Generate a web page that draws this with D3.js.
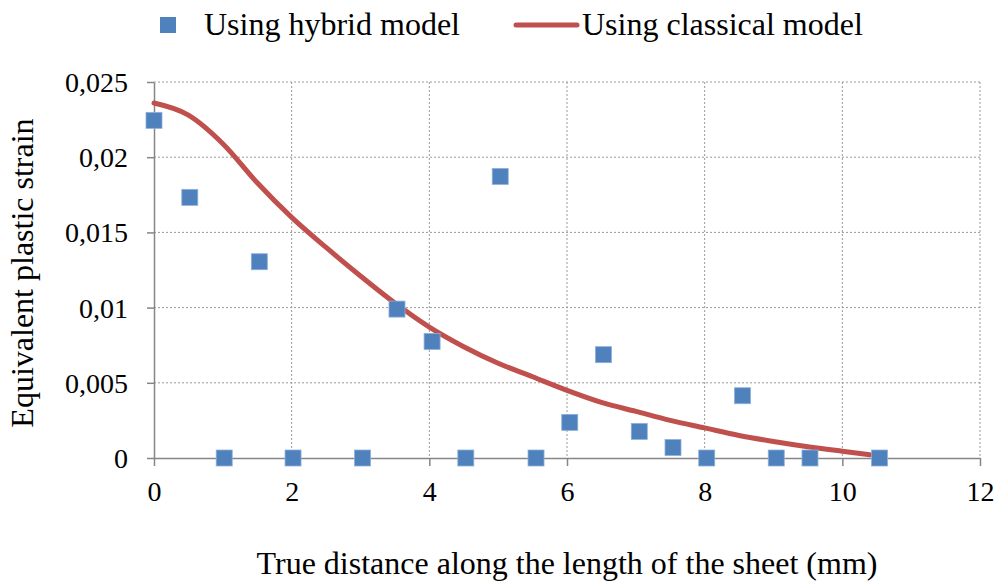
<!DOCTYPE html>
<html>
<head>
<meta charset="utf-8">
<script src="https://cdn.jsdelivr.net/npm/d3@7"></script>
<style>
  body { margin: 0; background: #fff; }
  svg text { font-family: "Liberation Serif", "Times New Roman", serif !important; fill: #000; }
</style>
</head>
<body>
<div id="chart"></div>
<script>
// hybrid model points
let hybridX = [0, 0.52, 1.02, 1.53, 2.02, 3.03, 3.53, 4.04, 4.53, 5.03, 5.55, 6.04, 6.53, 7.05, 7.54, 8.03, 8.55, 9.04, 9.53, 10.54];
let hybridY = [0.02245, 0.01733, 0, 0.01305, 0, 0, 0.0099, 0.00775, 0, 0.01872, 0, 0.00237, 0.00687, 0.00177, 0.0007, 0, 0.00414, 0, 0, 0];

// classical model curve
let classicalX = [0, 0.5, 1, 1.5, 2, 2.5, 3, 3.5, 4, 4.5, 5, 5.5, 6, 6.5, 7, 7.5, 8, 8.5, 9, 9.5, 10, 10.4];
let classicalY = [0.0236, 0.0228, 0.0209, 0.0183, 0.0160, 0.0140, 0.0121, 0.0103, 0.0087, 0.0074, 0.0063, 0.0054, 0.0045, 0.0037, 0.0031, 0.0025, 0.0020, 0.0015, 0.0011, 0.00075, 0.00045, 0.00022];

let xTicks = [0, 2, 4, 6, 8, 10, 12];
let yTicks = [0, 0.005, 0.01, 0.015, 0.02, 0.025];
let yTickLabels = ["0", "0,005", "0,01", "0,015", "0,02", "0,025"];

let svgWidth = 1000;
let svgHeight = 584;

let margin = { top: 82, right: 20, bottom: 126, left: 154 };
let chartWidth = 980 - margin.left;
let chartHeight = 458 - margin.top;

let svg = d3.select("#chart")
    .append("svg")
    .attr("width", svgWidth)
    .attr("height", svgHeight)
    .attr("font-family", "Liberation Serif, serif");

let chartGroup = svg.append("g")
    .attr("transform", `translate(${margin.left}, ${margin.top})`);

let xScale = d3.scaleLinear().domain([0, 12]).range([0, chartWidth]);
let yScale = d3.scaleLinear().domain([0, 0.025]).range([chartHeight, 0]);

// dotted gridlines
chartGroup.append("g")
    .selectAll("line")
    .data(yTicks.filter(d => d > 0))
    .enter()
    .append("line")
    .attr("x1", 0)
    .attr("x2", chartWidth)
    .attr("y1", d => yScale(d))
    .attr("y2", d => yScale(d))
    .attr("stroke", "#9a9a9a")
    .attr("stroke-width", 1)
    .attr("stroke-dasharray", "2,2");

chartGroup.append("g")
    .selectAll("line")
    .data(xTicks.filter(d => d > 0))
    .enter()
    .append("line")
    .attr("x1", d => xScale(d))
    .attr("x2", d => xScale(d))
    .attr("y1", 0)
    .attr("y2", chartHeight)
    .attr("stroke", "#9a9a9a")
    .attr("stroke-width", 1)
    .attr("stroke-dasharray", "2,2");

// axes
let bottomAxis = d3.axisBottom(xScale).tickValues(xTicks).tickSize(8).tickSizeOuter(0).tickFormat(d3.format("d"));
let leftAxis = d3.axisLeft(yScale).tickValues(yTicks).tickSize(7).tickSizeOuter(0)
    .tickFormat((d, i) => yTickLabels[i]);

let xAxisG = chartGroup.append("g")
    .attr("transform", `translate(0, ${chartHeight})`)
    .call(bottomAxis);

let yAxisG = chartGroup.append("g")
    .call(leftAxis);

[xAxisG, yAxisG].forEach(g => {
    g.attr("font-family", "Liberation Serif, serif").attr("font-size", 28);
    g.select(".domain").attr("stroke", "#868686").attr("stroke-width", 1.5);
    g.selectAll(".tick line").attr("stroke", "#868686").attr("stroke-width", 1.5);
    g.selectAll(".tick text").attr("fill", "#000");
});

xAxisG.selectAll(".tick text").attr("y", 34).attr("dy", "0.32em");
yAxisG.selectAll(".tick text").attr("x", -26).attr("dy", "0.34em");

// classical model line
let line = d3.line()
    .x(d => xScale(d[0]))
    .y(d => yScale(d[1]))
    .curve(d3.curveMonotoneX);

chartGroup.append("path")
    .datum(classicalX.map((x, i) => [x, classicalY[i]]))
    .attr("d", line)
    .attr("fill", "none")
    .attr("stroke", "#C0504D")
    .attr("stroke-width", 5)
    .attr("stroke-linecap", "round");

// hybrid model markers
let size = 16;
chartGroup.append("g")
    .selectAll("rect")
    .data(hybridX.map((x, i) => [x, hybridY[i]]))
    .enter()
    .append("rect")
    .attr("x", d => xScale(d[0]) - size / 2)
    .attr("y", d => yScale(d[1]) - size / 2)
    .attr("width", size)
    .attr("height", size)
    .attr("fill", "#4F81BD")
    .attr("stroke", "#8EB0DA")
    .attr("stroke-width", 0.8);

// axis titles
svg.append("text")
    .attr("x", margin.left + chartWidth / 2)
    .attr("y", 574)
    .attr("text-anchor", "middle")
    .attr("font-size", 32)
    .text("True distance along the length of the sheet (mm)");

svg.append("text")
    .attr("transform", `translate(33, 273) rotate(-90)`)
    .attr("text-anchor", "middle")
    .attr("font-size", 32)
    .text("Equivalent plastic strain");

// legend
let legend = svg.append("g");
legend.append("rect")
    .attr("x", 160)
    .attr("y", 17)
    .attr("width", size)
    .attr("height", size)
    .attr("fill", "#4F81BD");
legend.append("text")
    .attr("x", 204)
    .attr("y", 35)
    .attr("font-size", 32)
    .text("Using hybrid model");
legend.append("line")
    .attr("x1", 516)
    .attr("x2", 577)
    .attr("y1", 25)
    .attr("y2", 25)
    .attr("stroke", "#C0504D")
    .attr("stroke-width", 5)
    .attr("stroke-linecap", "round");
legend.append("text")
    .attr("x", 582)
    .attr("y", 35)
    .attr("font-size", 32)
    .text("Using classical model");
</script>
</body>
</html>
